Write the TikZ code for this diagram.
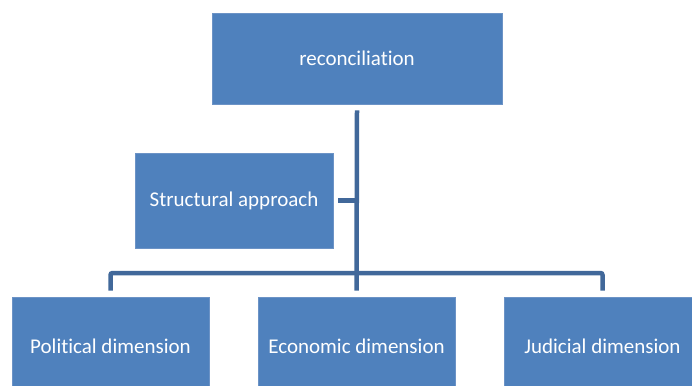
\documentclass[tikz,border=0pt]{standalone}
\usepackage{fontspec}
\setmainfont[Ligatures=NoCommon]{Carlito}
\definecolor{boxfill}{HTML}{4F81BD}
\definecolor{boxedge}{HTML}{6C93C6}
\definecolor{linkcol}{HTML}{41689A}
\begin{document}
\begin{tikzpicture}[x=1pt,y=-1pt,
  box/.style={rectangle,fill=boxfill,draw=boxedge,line width=0.6pt,text=white,
    font=\fontsize{21}{25}\selectfont,inner sep=0pt},
  link/.style={draw=linkcol,line width=4.5pt}]
\useasboundingbox (0,0) rectangle (692,385);
\node[box,minimum width=290pt,minimum height=91pt] (top) at (357,58.5) {reconciliation};
\node[box,minimum width=198pt,minimum height=95pt] (struct) at (234,200.5) {Structural approach};
\node[box,minimum width=197pt,minimum height=98pt] (pol) at (110.5,346) {Political dimension};
\node[box,minimum width=197pt,minimum height=98pt] (eco) at (356.5,346) {Economic dimension};
\node[box,minimum width=197pt,minimum height=98pt] (jud) at (602.5,346) {Judicial dimension};
\coordinate (bar) at (356.5,273);
\draw[link] ([yshift=-6pt]top.south) -- ([yshift=6pt]eco.north);
\draw[link] ([xshift=5pt]struct.east) -- (struct.east -| top.south);
\draw[link,rounded corners=2pt] ([yshift=6pt]pol.north) -- (pol.north |- bar) -- (jud.north |- bar) -- ([yshift=6pt]jud.north);
\end{tikzpicture}
\end{document}
